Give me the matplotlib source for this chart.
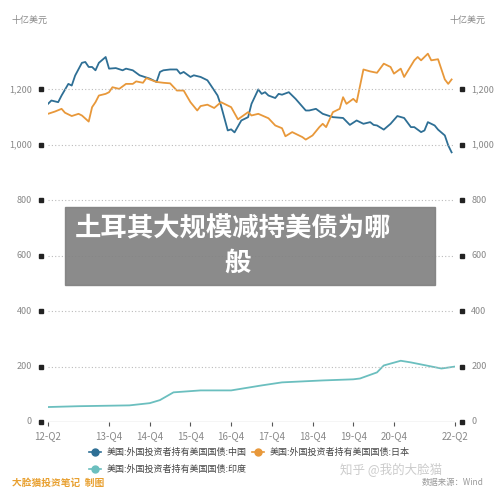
import matplotlib
matplotlib.use("Agg")
import matplotlib.pyplot as plt
from matplotlib.patches import Rectangle

plt.rcParams['font.family'] = ['Noto Sans CJK SC', 'DejaVu Sans']

# month index from 2012-06
cn_m = [0,1,3,4,6,7,8,10,11,12,13,14,15,17,18,20,22,23,25,27,30,32,33,34,36,38,39,40,42,43,45,47,48,50,51,53,54,55,57,59,60,62,63,64,65,67,68,69,71,73,76,77,79,81,84,87,89,91,93,95,96,97,99,101,103,105,107,108,110,111,112,114,115,117,118,119]
cn_v = [1148,1160,1154,1178,1220,1214,1250,1296,1299,1281,1281,1269,1296,1317,1275,1277,1269,1275,1269,1251,1239,1227,1263,1269,1272,1272,1257,1263,1245,1251,1245,1233,1215,1178,1142,1052,1056,1045,1088,1100,1148,1200,1184,1190,1178,1169,1184,1181,1190,1166,1124,1124,1130,1112,1100,1097,1072,1088,1076,1082,1072,1070,1055,1076,1104,1097,1064,1064,1046,1052,1082,1070,1055,1034,998,973]
jp_m = [0,2,4,5,7,9,10,12,13,14,15,17,18,19,21,23,25,26,28,29,30,32,34,36,38,40,42,44,45,47,49,51,54,56,59,60,62,65,67,69,70,72,75,76,78,80,81,82,84,86,87,88,90,91,93,95,97,99,101,102,104,105,108,109,110,112,113,115,117,118,119]
jp_v = [1112,1120,1130,1116,1104,1112,1106,1084,1136,1154,1178,1184,1190,1208,1202,1220,1220,1229,1224,1241,1236,1227,1224,1222,1196,1196,1154,1124,1140,1145,1133,1154,1136,1092,1118,1106,1112,1096,1070,1060,1031,1046,1028,1019,1034,1064,1076,1064,1118,1130,1172,1148,1166,1154,1272,1265,1260,1293,1281,1257,1275,1245,1305,1317,1305,1329,1305,1309,1236,1220,1236]
in_m = [0,9,24,30,33,37,45,54,63,69,81,90,92,97,99,104,107,116,120]
in_v = [54,57,60,68,79,107,114,114,132,143,150,154,157,179,204,221,215,193,200]
ticks_m = [0,18,30,42,54,66,78,90,102,120]
tick_lbls = ['12-Q2','13-Q4','14-Q4','15-Q4','16-Q4','17-Q4','18-Q4','19-Q4','20-Q4','22-Q2']
yticks = [0,200,400,600,800,1000,1200]
names = ['美国:外国投资者持有美国国债:中国','美国:外国投资者持有美国国债:日本','美国:外国投资者持有美国国债:印度']
colors = ['#2e6f95','#e8983a','#6bbfbf']

fig = plt.figure(figsize=(5,4.93), dpi=100)
ax = fig.add_axes([48/500, 1-422/493, 407/500, 388/493])
ax.plot(cn_m, cn_v, color=colors[0], lw=1.3)
ax.plot(jp_m, jp_v, color=colors[1], lw=1.3)
ax.plot(in_m, in_v, color=colors[2], lw=1.3)
ax.set_xlim(0,120); ax.set_ylim(0,1400)
for s in ax.spines.values(): s.set_visible(False)
ax.axhline(0, color='#555', lw=0.8)
for y in yticks[1:]:
    ax.axhline(y, color='#bbb', lw=0.8, ls=(0,(1,2)))
ax.set_yticks([])
ax.set_xticks(ticks_m); ax.set_xticklabels(tick_lbls, fontsize=7, color='#888')
ax.tick_params(axis='x', length=3, color='#555')
tr = ax.get_yaxis_transform()
for y in yticks:
    lbl = f'{y:,}'
    ax.plot([-0.017, 1.017], [y, y], ls='none', marker='s', ms=2.5, color='#222', transform=tr, clip_on=False)
    ax.text(-0.04, y, lbl, transform=tr, ha='right', va='center', fontsize=6.5, color='#888')
    ax.text(1.04, y, lbl, transform=tr, ha='left', va='center', fontsize=6.5, color='#888')
fig.text(12/500, 1-20/493, '十亿美元', fontsize=6.5, color='#888', va='center')
fig.text(450/500, 1-20/493, '十亿美元', fontsize=6.5, color='#888', va='center')

# legend
lg = [(95,452,0),(258,452,1),(95,469,2)]
for x,y,i in lg:
    fig.lines.append(plt.Line2D([(x-6)/500,(x+6)/500],[1-y/493]*2, color=colors[i], lw=1.2, transform=fig.transFigure))
    fig.lines.append(plt.Line2D([x/500],[1-y/493], marker='o', ms=5, color=colors[i], transform=fig.transFigure))
    fig.text((x+12)/500, 1-y/493, names[i], fontsize=6.5, color='#444', va='center')

fig.text(12/500, 1-483/493, '大脸猫投资笔记  制图', fontsize=7, color='#e8a030', weight='bold', va='center')
fig.text(340/500, 1-469/493, '知乎 @我的大脸猫', fontsize=9, color='#ccc', va='center')
fig.text(422/500, 1-483/493, '数据来源：Wind', fontsize=6, color='#999', va='center')

fig.patches.append(Rectangle((65/500, 1-285/493), 370/500, 78/493, transform=fig.transFigure, color='#7f7f7f', alpha=0.9, zorder=5))
fig.text(75/500, 1-229/493, '土耳其大规模减持美债为哪', fontsize=19, color='white', weight='bold', va='center', zorder=6)
fig.text(237/500, 1-263/493, '般', fontsize=19, color='white', weight='bold', va='center', ha='center', zorder=6)
fig.savefig('out.png', dpi=100)
